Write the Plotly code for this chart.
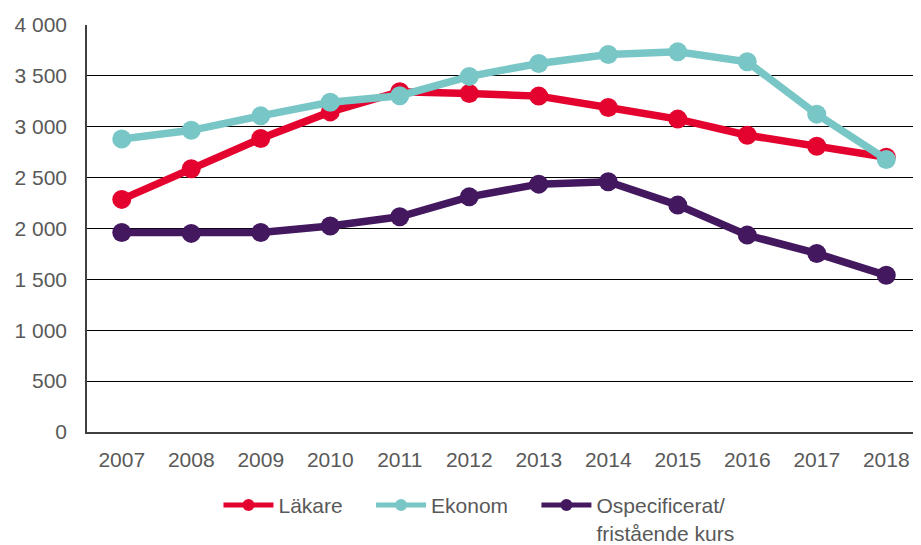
import plotly.graph_objects as go

years = ["2007", "2008", "2009", "2010", "2011", "2012", "2013", "2014", "2015", "2016", "2017", "2018"]
lakare = [2286, 2588, 2885, 3146, 3345, 3327, 3301, 3189, 3075, 2917, 2809, 2700]
ekonom = [2880, 2965, 3107, 3240, 3305, 3495, 3622, 3710, 3736, 3638, 3124, 2679]
ospec = [1961, 1952, 1960, 2025, 2115, 2311, 2436, 2459, 2230, 1935, 1755, 1540]

pad = "\u00a0" * 4
names = ["Läkare" + pad, "Ekonom" + pad, "Ospecificerat/<br>fristående kurs"]
colors = ["#E4032E", "#79C6C7", "#43185F"]

font_family = "Liberation Sans, Arial, sans-serif"

fig = go.Figure()
for name, vals, col in zip(names, [lakare, ekonom, ospec], colors):
    fig.add_trace(go.Scatter(
        x=years, y=vals, name=name, mode="lines+markers",
        line=dict(color=col, width=7.5),
        marker=dict(color=col, size=19),
    ))

# page body has an 8px offset; figure is sized to fill the remaining window
fig.update_layout(
    width=913, height=537,
    margin=dict(l=79, r=0, t=17, b=113, autoexpand=False),
    plot_bgcolor="white", paper_bgcolor="white",
    font=dict(family=font_family, size=21, color="#595959"),
    separators=", ",
    showlegend=True,
    legend=dict(orientation="h", x=0.47, xanchor="center", y=-0.13, yanchor="top",
                valign="top", font=dict(size=21, color="#595959"),
                itemsizing="constant", tracegroupgap=0, itemwidth=50),
    xaxis=dict(type="category", showgrid=False, showline=True, linecolor="#404040",
               linewidth=1.5, ticks="", tickfont=dict(size=21), range=[-0.5, 11.5],
               ticklabelstandoff=8),
    yaxis=dict(range=[0, 4000], dtick=500, tickformat=",d", showgrid=True,
               gridcolor="#000000", gridwidth=1, showline=True, linecolor="#404040",
               linewidth=1.5, ticks="", tickfont=dict(size=21), zeroline=False,
               ticklabelstandoff=14),
)

fig.write_html("out.html")
